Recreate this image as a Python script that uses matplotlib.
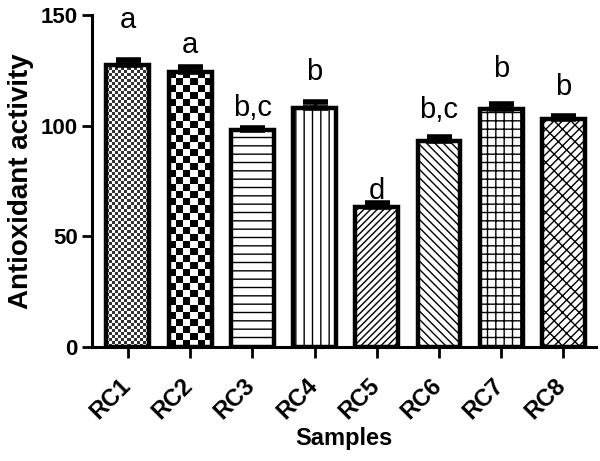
import numpy as np
import matplotlib
matplotlib.use("Agg")
import matplotlib.pyplot as plt
from matplotlib.transforms import ScaledTranslation

plt.rcParams['font.family'] = ['Liberation Sans', 'DejaVu Sans']
plt.rcParams['hatch.linewidth'] = 1.0

samples = ["RC1", "RC2", "RC3", "RC4", "RC5", "RC6", "RC7", "RC8"]
activity = [127.5, 124.3, 98.3, 108.0, 63.3, 93.0, 107.5, 103.0]
errors = [2.3, 2.3, 0.8, 2.7, 2.0, 2.0, 2.5, 1.3]
letters = ["a", "a", "b,c", "b", "d", "b,c", "b", "b"]
letter_y = [148, 136.5, 108, 124.5, 70.5, 107, 125.5, 117.5]
hatches = [None, None, "--", "||", "/////", "\\\\\\\\", "++", "xx//"]
checker_px = [3.0, 7.0]  # cell size of the checkerboard fills (RC1, RC2)

fig = plt.figure(figsize=(6, 4.61), dpi=100)
ax = fig.add_axes([0.153, 0.247, 0.84, 0.72])

x = np.arange(len(samples))
ax.set_xlim(-0.58, 7.52)
ax.set_ylim(0, 150)

bars = ax.bar(x, activity, width=0.69, color="white", edgecolor="black",
              linewidth=3.2, zorder=2)
for b, h in zip(bars, hatches):
    if h:
        b.set_hatch(h)

# checkerboard fills for first two bars
for b, cell in zip(bars[:2], checker_px):
    b.set_facecolor("none")
    bx, by = b.get_x(), b.get_y()
    bw, bh = b.get_width(), b.get_height()
    (px0, py0), (px1, py1) = ax.transData.transform([(bx, by), (bx + bw, by + bh)])
    nx = max(1, int(round((px1 - px0) / cell)))
    ny = max(1, int(round((py1 - py0) / cell)))
    board = np.add.outer(np.arange(ny), np.arange(nx)) % 2
    im = ax.imshow(board, cmap="gray", vmin=0, vmax=1, aspect="auto",
                   extent=[bx, bx + bw, by, by + bh], zorder=1.5,
                   interpolation="nearest", alpha=0.8 if cell < 5 else 1.0)
    im.set_clip_path(b)

ax.set_xlim(-0.58, 7.52)
ax.set_ylim(0, 150)

ax.errorbar(x, activity, yerr=[[0] * len(errors), errors], fmt="none",
            ecolor="black", elinewidth=2.5, capsize=9, capthick=4, zorder=3)

for xi, lab, ly in zip(x, letters, letter_y):
    ax.text(xi, ly, lab, ha="center", va="center", fontsize=21)

ax.set_yticks([0, 50, 100, 150])
ax.set_xticks(x)
ax.tick_params(axis="both", width=2, length=7, direction="out", pad=3)
ax.tick_params(axis="x", length=8, pad=8)
ax.set_xticklabels(samples, rotation=45, ha="right", rotation_mode="anchor",
                   fontsize=17, fontweight="bold")
for t in ax.get_yticklabels():
    t.set_fontsize(16)
    t.set_fontweight("bold")

# nudge rotated labels down-left like the original
shift = ScaledTranslation(-9 / 100, -5 / 100, fig.dpi_scale_trans)
for tick in ax.xaxis.get_major_ticks():
    tick.label1.set_transform(tick.label1.get_transform() + shift)

for side in ("top", "right"):
    ax.spines[side].set_visible(False)
for side in ("left", "bottom"):
    ax.spines[side].set_linewidth(2.2)

ax.set_ylabel("Antioxidant activity", fontsize=20, fontweight="bold", labelpad=5)
ax.set_xlabel("Samples", fontsize=17, fontweight="bold", labelpad=2)

fig.savefig("out.png", dpi=100)
